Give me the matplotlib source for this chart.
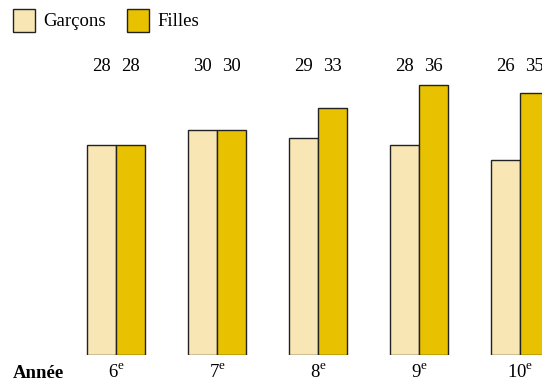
import matplotlib
matplotlib.use("Agg")
import matplotlib.pyplot as plt
import numpy as np

plt.rcParams['font.family'] = ['Liberation Serif', 'DejaVu Serif']
plt.rcParams['mathtext.fontset'] = 'custom'
plt.rcParams['mathtext.rm'] = 'Liberation Serif'

annees = ['6', '7', '8', '9', '10']
garcons = [28, 30, 29, 28, 26]
filles = [28, 30, 33, 36, 35]

couleur_garcons = '#F8E6B4'
couleur_filles = '#E8C200'

fig = plt.figure(figsize=(5.42, 3.81), dpi=100)
ax = fig.add_axes([0, 26 / 381, 1, 355 / 381])

x = np.arange(len(annees))
w = 0.287
ax.bar(x - w / 2, garcons, w, color=couleur_garcons, edgecolor='#222222', linewidth=1, label='Garçons')
ax.bar(x + w / 2, filles, w, color=couleur_filles, edgecolor='#222222', linewidth=1, label='Filles')

# valeurs au-dessus, sur une seule ligne
for i in range(len(annees)):
    ax.text(x[i] - w / 2, 38.5, str(garcons[i]), ha='center', va='center', fontsize=13.5)
    ax.text(x[i] + w / 2, 38.5, str(filles[i]), ha='center', va='center', fontsize=13.5)

ax.set_xlim(-116 / 101, 426 / 101)
ax.set_ylim(0, 355 / 7.5)
ax.set_xticks(x)
ax.set_xticklabels([a + r'$^{\mathrm{e}}$' for a in annees], fontsize=13.5)
ax.tick_params(axis='x', length=0, pad=6)
ax.set_yticks([])
for s in ax.spines.values():
    s.set_visible(False)

fig.text(13 / 542, 8 / 381, 'Année', fontsize=13.5, fontweight='bold', ha='left', va='center')

fig.legend(loc='upper left', bbox_to_anchor=(7 / 542, 1 - 3 / 381), ncol=2, frameon=False,
           fontsize=13.5, handlelength=1.2, handleheight=1.5, handletextpad=0.45,
           columnspacing=1.1, borderaxespad=0.0, borderpad=0.3)

fig.savefig('out.png', dpi=100)
